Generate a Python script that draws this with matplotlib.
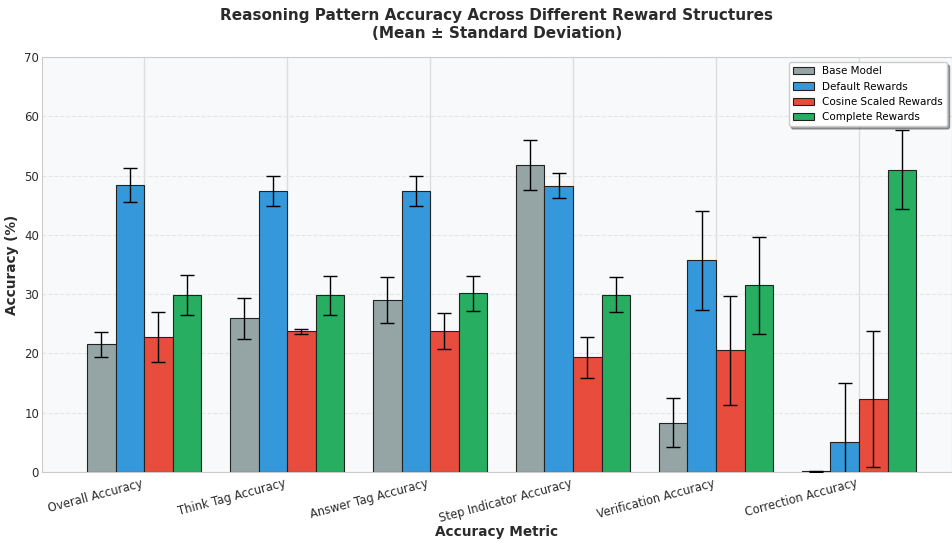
import numpy as np
import matplotlib.pyplot as plt

# ---------------------------------------------------------------------------
# Data
# ---------------------------------------------------------------------------

metrics = [
    "Overall Accuracy",
    "Think Tag Accuracy",
    "Answer Tag Accuracy",
    "Step Indicator Accuracy",
    "Verification Accuracy",
    "Correction Accuracy",
]

model_names = ["Base Model", "Default Rewards", "Cosine Scaled Rewards", "Complete Rewards"]

base_mean = [21.5, 25.9, 29.0, 51.8, 8.3, 0.1]
base_std = [2.1, 3.5, 3.9, 4.2, 4.1, 0.1]

default_mean = [48.4, 47.4, 47.4, 48.3, 35.7, 5.0]
default_std = [2.9, 2.6, 2.6, 2.1, 8.4, 10.0]

cosine_mean = [22.8, 23.7, 23.8, 19.3, 20.5, 12.3]
cosine_std = [4.2, 0.4, 3.0, 3.5, 9.2, 11.5]

complete_mean = [29.9, 29.8, 30.1, 29.9, 31.5, 51.0]
complete_std = [3.4, 3.3, 2.9, 3.0, 8.2, 6.7]

colors = ["#95a5a6", "#3498db", "#e74c3c", "#27ae60"]

# ---------------------------------------------------------------------------
# Plot
# ---------------------------------------------------------------------------

TXT = "#2b2b2b"

fig, ax = plt.subplots(figsize=(9.52, 5.43), dpi=100)
fig.subplots_adjust(left=0.044, right=1.0, top=0.895, bottom=0.131)
ax.set_facecolor("#f8f9fa")

x = np.arange(len(metrics))
width = 0.2
series = [
    (base_mean, base_std),
    (default_mean, default_std),
    (cosine_mean, cosine_std),
    (complete_mean, complete_std),
]

for i, (means, stds) in enumerate(series):
    offset = (i - 1.5) * width
    ax.bar(
        x + offset, means, width,
        yerr=stds, capsize=5,
        color=colors[i], edgecolor="#222222", linewidth=0.8,
        label=model_names[i],
        error_kw=dict(ecolor="black", elinewidth=1.0, capthick=1.0),
        zorder=3,
    )

ax.set_xlim(-0.715, 5.65)
ax.set_ylim(0, 70)
ax.set_xticks(x)
ax.set_xticklabels(metrics, rotation=15, ha="right", fontsize=8.3, color=TXT)
ax.tick_params(axis="y", labelsize=8.5, labelcolor=TXT, pad=2)
ax.tick_params(axis="both", length=0)

ax.set_xlabel("Accuracy Metric", fontsize=9.8, fontweight="bold", color=TXT, labelpad=0)
ax.set_ylabel("Accuracy (%)", fontsize=9.8, fontweight="bold", color=TXT, labelpad=4)
ax.set_title(
    "Reasoning Pattern Accuracy Across Different Reward Structures\n(Mean \u00b1 Standard Deviation)",
    fontsize=11, fontweight="bold", color=TXT, pad=14,
)

ax.grid(axis="x", color="#dddddd", lw=1.0, zorder=0)
ax.grid(axis="y", linestyle="--", color="#e6e6e6", lw=0.8, zorder=0)
for spine in ax.spines.values():
    spine.set_color("#cccccc")

ax.legend(loc="upper right", fontsize=7.5, frameon=True, shadow=True,
          fancybox=True, framealpha=1.0)

plt.savefig("out.png", dpi=100)
plt.close()
